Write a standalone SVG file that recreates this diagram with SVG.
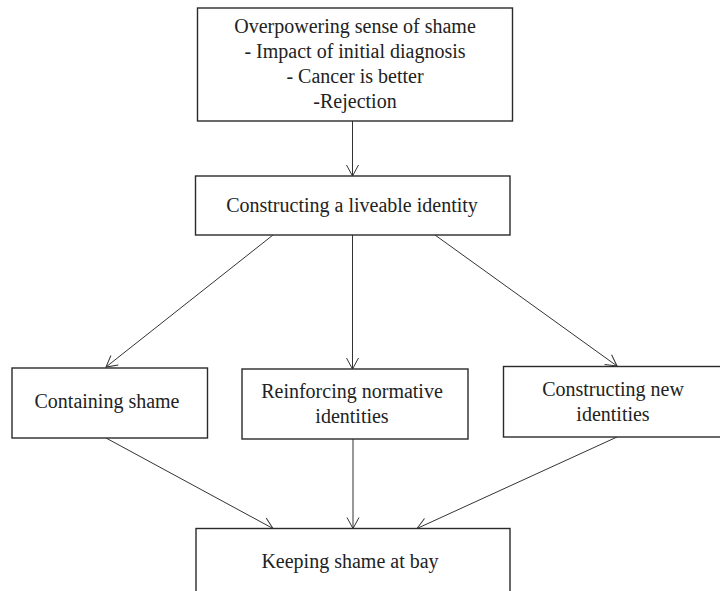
<svg xmlns="http://www.w3.org/2000/svg" width="720" height="591" viewBox="0 0 720 591">
<defs>
<style>
.box{fill:#fff;stroke:#2a2a2a;stroke-width:1.4}
.lbl{font-family:"Liberation Serif","Times New Roman",serif;font-size:20px;fill:#222;text-anchor:middle}
.edge{stroke:#333;stroke-width:1;fill:none;marker-end:url(#arr)}
</style>
<marker id="arr" markerUnits="userSpaceOnUse" markerWidth="16" markerHeight="16" viewBox="-13 -8 16 16" refX="0" refY="0" orient="auto">
<path d="M-11,-6 L0,0 L-11,6" fill="none" stroke="#333" stroke-width="1"/>
</marker>
</defs>
<rect width="720" height="591" fill="#fff"/>
<g id="connectors">
<line class="edge" x1="352.5" y1="121" x2="352.5" y2="176"/>
<line class="edge" x1="273" y1="235" x2="106" y2="367"/>
<line class="edge" x1="352.5" y1="235" x2="352.5" y2="369"/>
<line class="edge" x1="435" y1="235" x2="617" y2="366"/>
<line class="edge" x1="106" y1="438" x2="273" y2="528.5"/>
<line class="edge" x1="353" y1="439" x2="353" y2="528.5"/>
<line class="edge" x1="617" y1="437" x2="417" y2="528.5"/>
</g>
<g id="shame">
<rect class="box" x="197.5" y="8" width="315" height="113"/>
<text class="lbl" x="355" y="33">Overpowering sense of shame</text>
<text class="lbl" x="355" y="58">- Impact of initial diagnosis</text>
<text class="lbl" x="355" y="83">- Cancer is better</text>
<text class="lbl" x="355" y="108">-Rejection</text>
</g>
<g id="liveable">
<rect class="box" x="195.5" y="176" width="314.5" height="59"/>
<text class="lbl" x="352" y="212">Constructing a liveable identity</text>
</g>
<g id="containing">
<rect class="box" x="12" y="368" width="195.5" height="70"/>
<text class="lbl" x="107" y="408">Containing shame</text>
</g>
<g id="reinforcing">
<rect class="box" x="242" y="369" width="226" height="70"/>
<text class="lbl" x="352" y="398">Reinforcing normative</text>
<text class="lbl" x="352" y="423">identities</text>
</g>
<g id="newidentities">
<rect class="box" x="503.5" y="366.5" width="220" height="70.5"/>
<text class="lbl" x="613" y="396">Constructing new</text>
<text class="lbl" x="613" y="421">identities</text>
</g>
<g id="bay">
<rect class="box" x="196" y="528.5" width="314" height="80"/>
<text class="lbl" x="350" y="568">Keeping shame at bay</text>
</g>
</svg>
